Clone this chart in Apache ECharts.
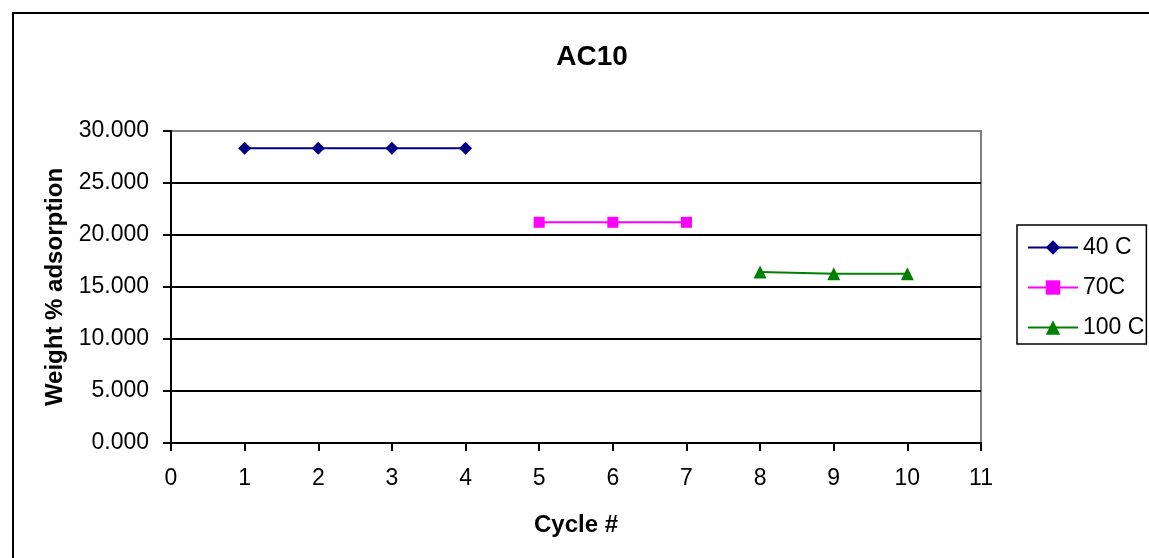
<!DOCTYPE html>
<html>
<head>
<meta charset="utf-8">
<script src="https://cdn.jsdelivr.net/npm/echarts@6/dist/echarts.min.js"></script>
<style>
html,body{margin:0;padding:0;background:#fff;}
#chart{width:1149px;height:558px;}
</style>
</head>
<body>
<div id="chart"></div>
<script>
const seriesNames = ['40 C', '70C', '100 C'];
const cycles40 = [1, 2, 3, 4];
const values40 = [28.35, 28.35, 28.35, 28.35];
const cycles70 = [5, 6, 7];
const values70 = [21.22, 21.22, 21.22];
const cycles100 = [8, 9, 10];
const values100 = [16.44, 16.27, 16.27];
const yTicks = [0, 5, 10, 15, 20, 25, 30];
const xTicks = [0, 1, 2, 3, 4, 5, 6, 7, 8, 9, 10, 11];

const FONT = '"Liberation Sans", Arial, sans-serif';
const pairs = (xs, ys) => xs.map((x, i) => [x, ys[i]]);

const chart = echarts.init(document.getElementById('chart'), null, {renderer: 'canvas'});
const gridColors = yTicks.map((v, i) => i === yTicks.length - 1 ? '#808080' : '#000000');

chart.setOption({
  animation: false,
  backgroundColor: '#ffffff',
  title: {
    text: 'AC10',
    left: 587,
    top: 38,
    textAlign: 'center',
    textStyle: {fontFamily: FONT, fontSize: 28, fontWeight: 'bold', color: '#000'}
  },
  graphic: [{
    type: 'rect',
    shape: {x: 13, y: 13, width: 1200, height: 600},
    style: {fill: 'none', stroke: '#000', lineWidth: 2},
    z: -10
  }],
  legend: {
    orient: 'vertical',
    left: 1017,
    top: 225,
    padding: [11, 2, 5, 10],
    itemGap: 17,
    itemWidth: 50,
    itemHeight: 18,
    borderColor: '#000',
    borderWidth: 1.5,
    backgroundColor: '#fff',
    textStyle: {fontFamily: FONT, fontSize: 23, color: '#000', lineHeight: 23, padding: [0, 0, 0, 0]},
    data: seriesNames
  },
  grid: {
    left: 171, top: 131, right: 168, bottom: 115,
    show: true, borderColor: '#808080', borderWidth: 2, backgroundColor: '#fff'
  },
  xAxis: {
    type: 'value',
    min: 0, max: 11, interval: 1,
    name: 'Cycle #',
    nameLocation: 'middle',
    nameGap: 70,
    nameTextStyle: {fontFamily: FONT, fontSize: 24, fontWeight: 'bold', color: '#000'},
    axisLine: {show: true, onZero: false, lineStyle: {color: '#000', width: 2}},
    axisTick: {show: true, inside: false, length: 8, lineStyle: {color: '#000', width: 2}},
    axisLabel: {fontFamily: FONT, fontSize: 23, color: '#000', margin: 24,
      formatter: v => xTicks.includes(v) ? String(v) : ''},
    splitLine: {show: false}
  },
  yAxis: {
    type: 'value',
    min: 0, max: 30, interval: 5,
    name: 'Weight % adsorption',
    nameLocation: 'middle',
    nameGap: 104,
    nameTextStyle: {fontFamily: FONT, fontSize: 24, fontWeight: 'bold', color: '#000'},
    axisLine: {show: true, lineStyle: {color: '#000', width: 2}},
    axisTick: {show: true, inside: false, length: 8, lineStyle: {color: '#000', width: 2}},
    axisLabel: {fontFamily: FONT, fontSize: 23, color: '#000', margin: 22,
      formatter: v => v.toFixed(3)},
    splitLine: {show: true, lineStyle: {color: gridColors, width: 2}}
  },
  series: [
    {
      name: seriesNames[0], type: 'line', data: pairs(cycles40, values40),
      symbol: 'diamond', symbolSize: 13,
      itemStyle: {color: '#000080'}, lineStyle: {color: '#000080', width: 2}
    },
    {
      name: seriesNames[1], type: 'line', data: pairs(cycles70, values70),
      symbol: 'rect', symbolSize: 11,
      itemStyle: {color: '#FF00FF'}, lineStyle: {color: '#FF00FF', width: 2}
    },
    {
      name: seriesNames[2], type: 'line', data: pairs(cycles100, values100),
      symbol: 'triangle', symbolSize: 13,
      itemStyle: {color: '#008000'}, lineStyle: {color: '#008000', width: 2}
    }
  ]
});
</script>
</body>
</html>
